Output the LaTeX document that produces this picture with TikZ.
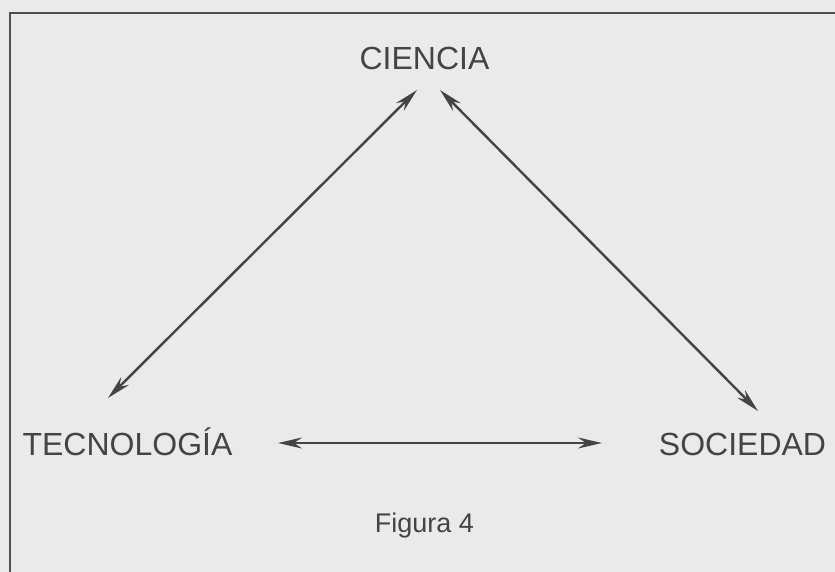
\documentclass[tikz,border=0pt]{standalone}
\usepackage{fontspec}
\setmainfont{Liberation Sans}
\usetikzlibrary{arrows.meta}
\definecolor{bgpaper}{HTML}{EAEAEA}
\definecolor{ink}{HTML}{444444}
\definecolor{frameink}{HTML}{505050}
\begin{document}
\begin{tikzpicture}[x=1pt,y=1pt,
  label/.style={inner sep=0pt,anchor=base,text=ink,font=\fontsize{32}{36}\selectfont},
  caption/.style={inner sep=0pt,anchor=base,text=ink,font=\fontsize{27}{32}\selectfont},
  dblarrow/.style={draw=ink,line width=2.4pt,{Stealth[length=24pt,width=11pt,inset=8pt]}-{Stealth[length=24pt,width=11pt,inset=8pt]}}]
\fill[bgpaper] (0,0) rectangle (835,-572);
\useasboundingbox (0,0) rectangle (835,-572);
\draw[frameink,line width=2.6pt] (10,-580) -- (10,-13) -- (845,-13);
\node[label] (cie) at (424.5,-70) {CIENCIA};
\node[label] (tec) at (127.5,-455) {TECNOLOGÍA};
\node[label] (soc) at (742.5,-455) {SOCIEDAD};
\node[caption] (fig) at (424.5,-532) {Figura 4};
\draw[dblarrow] ([shift={(-19.5,57)}]tec.base) -- ([shift={(-7.5,-20)}]cie.base);
\draw[dblarrow] ([shift={(15.5,44)}]soc.base) -- ([shift={(15.5,-20)}]cie.base);
\draw[dblarrow] ([shift={(150.5,12)}]tec.base) -- ([shift={(-140.5,12)}]soc.base);
\end{tikzpicture}
\end{document}
